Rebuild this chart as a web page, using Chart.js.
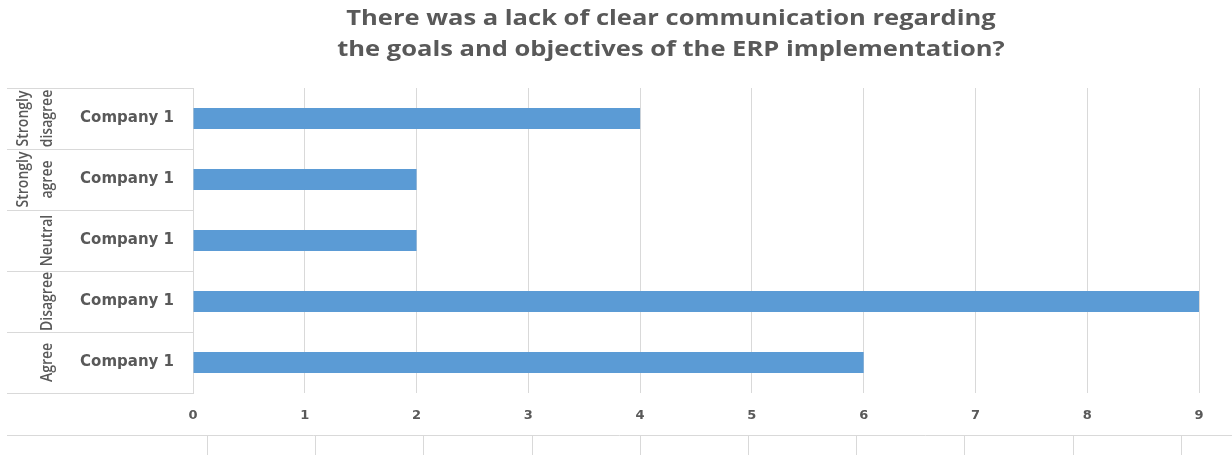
<!DOCTYPE html>
<html>
<head>
<meta charset="utf-8">
<script src="https://cdn.jsdelivr.net/npm/chart.js@4.4.1/dist/chart.umd.min.js"></script>
<style>
  html, body { margin: 0; padding: 0; background: #fff; }
  #wrap { width: 1232px; height: 455px; position: relative; }
</style>
</head>
<body>
<div id="wrap"><canvas id="chart"></canvas></div>
<script>
// data
const titleLines = [
    "There was a lack of clear communication regarding",
    "the goals and objectives of the ERP implementation?"
];
const groups = ["Strongly disagree", "Strongly agree", "Neutral", "Disagree", "Agree"];
const companies = ["Company 1", "Company 1", "Company 1", "Company 1", "Company 1"];
const values = [4, 2, 2, 9, 6];
const xMax = 9;

const textColor = "#595959";
const gridColor = "#D9D9D9";
const barColor = "#5B9BD5";
const stretch = 1.16; // the source picture is a bit wide

// title drawn above the plot, centred a bit right like the original
const titlePlugin = {
    id: "titleText",
    afterDraw(chart) {
        const ctx = chart.ctx;
        ctx.save();
        ctx.fillStyle = textColor;
        ctx.font = 'bold 22px "Open Sans"';
        ctx.textAlign = "center";
        ctx.textBaseline = "middle";
        titleLines.forEach((t, i) => {
            ctx.save();
            ctx.translate(671, 19 + i * 31);
            ctx.scale(stretch, 1);
            ctx.fillText(t, 0, 0);
            ctx.restore();
        });
        ctx.restore();
    }
};

// outer category level (rotated group names + separators)
const groupPlugin = {
    id: "groupLabels",
    afterDraw(chart) {
        const { ctx, chartArea, scales: { y } } = chart;
        ctx.save();
        ctx.strokeStyle = gridColor;
        ctx.lineWidth = 1;
        for (let i = 0; i <= groups.length; i++) {
            let py;
            if (i === 0) py = chartArea.top;
            else if (i === groups.length) py = chartArea.bottom;
            else py = (y.getPixelForValue(i - 1) + y.getPixelForValue(i)) / 2;
            py = Math.round(py) + 0.5;
            ctx.beginPath();
            ctx.moveTo(7, py);
            ctx.lineTo(chartArea.left, py);
            ctx.stroke();
        }
        ctx.fillStyle = textColor;
        ctx.font = '600 14px "Open Sans"';
        ctx.textAlign = "center";
        ctx.textBaseline = "middle";
        groups.forEach((g, i) => {
            const lines = g.split(" ");
            ctx.save();
            ctx.translate(47, y.getPixelForValue(i));
            ctx.rotate(-Math.PI / 2);
            ctx.scale(1, 1.2);
            lines.forEach((ln, j) => ctx.fillText(ln, 0, -(lines.length - 1 - j) * 24 / 1.2));
            ctx.restore();
        });
        ctx.restore();
    }
};

// leftover rule with ticks at the bottom of the original image
const bottomRulePlugin = {
    id: "bottomRule",
    afterDraw(chart) {
        const ctx = chart.ctx;
        ctx.save();
        ctx.strokeStyle = gridColor;
        ctx.lineWidth = 1;
        ctx.beginPath();
        ctx.moveTo(7, 435.5);
        ctx.lineTo(chart.width, 435.5);
        for (let i = 0; i <= xMax; i++) {
            const px = Math.round(207 + i * 108.2) + 0.5;
            ctx.moveTo(px, 436);
            ctx.lineTo(px, chart.height);
        }
        ctx.stroke();
        ctx.restore();
    }
};

new Chart(document.getElementById("chart"), {
    type: "bar",
    data: {
        labels: companies,
        datasets: [{
            label: "Company 1",
            data: values,
            backgroundColor: barColor,
            borderWidth: 0,
            barPercentage: 0.345,
            categoryPercentage: 1
        }]
    },
    options: {
        indexAxis: "y",
        responsive: true,
        maintainAspectRatio: false,
        animation: false,
        layout: { padding: { top: 88, right: 33, bottom: 0, left: 0 } },
        plugins: {
            legend: { display: false },
            tooltip: { enabled: false }
        },
        scales: {
            x: {
                min: 0,
                max: xMax,
                afterFit: (s) => { s.height = 62; },
                ticks: {
                    stepSize: 1,
                    color: textColor,
                    padding: 15,
                    font: { family: "DejaVu Sans", weight: "bold", size: 13 }
                },
                grid: { color: gridColor, drawTicks: false },
                border: { display: false }
            },
            y: {
                afterFit: (s) => { s.width = 193; },
                ticks: {
                    color: textColor,
                    padding: 11,
                    font: { family: "DejaVu Sans", weight: "bold", size: 15 }
                },
                grid: { display: false },
                border: { display: true, color: gridColor }
            }
        }
    },
    plugins: [titlePlugin, groupPlugin, bottomRulePlugin]
});
</script>
</body>
</html>
